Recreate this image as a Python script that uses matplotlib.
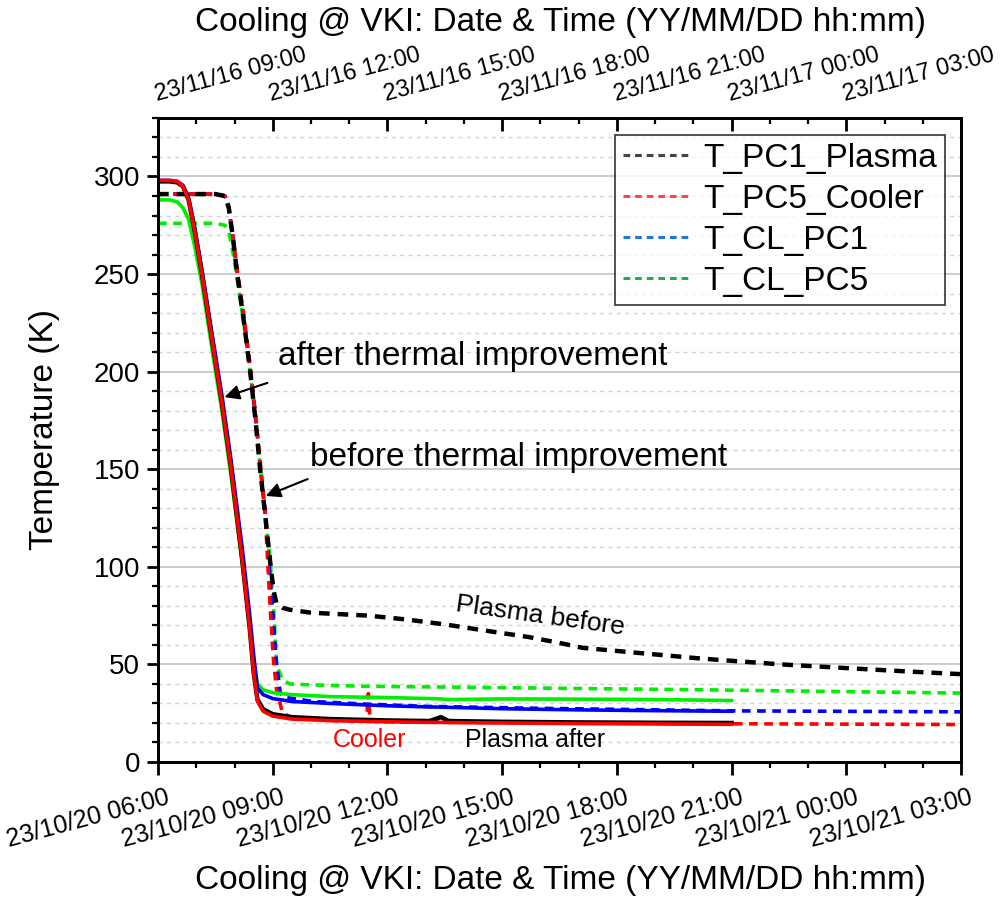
import matplotlib
matplotlib.use("Agg")
import matplotlib.pyplot as plt
from matplotlib.lines import Line2D
from matplotlib.ticker import MultipleLocator
from matplotlib.transforms import ScaledTranslation

plt.rcParams['font.family'] = ['Liberation Sans', 'DejaVu Sans']

# Tick positions (hours after the start of each run) and labels
tick_hours = [0, 3, 6, 9, 12, 15, 18, 21]
bottom_labels = ['23/10/20 06:00', '23/10/20 09:00', '23/10/20 12:00', '23/10/20 15:00',
                 '23/10/20 18:00', '23/10/20 21:00', '23/10/21 00:00', '23/10/21 03:00']
top_labels = ['23/11/16 09:00', '23/11/16 12:00', '23/11/16 15:00', '23/11/16 18:00',
              '23/11/16 21:00', '23/11/17 00:00', '23/11/17 03:00', '']

# After thermal improvement (solid lines)
t_after = [0, 0.3, 0.5, 0.65, 0.8, 0.95, 1.15, 1.4, 1.67, 1.9, 2.2, 2.4, 2.5, 2.6,
           2.75, 3.0, 3.5, 4.5, 6.0, 7.1, 7.4, 7.6, 9.0, 11.0, 13.0, 15.0]
plasma_after = [297.5, 297.5, 297, 295, 288, 273, 250, 218, 184, 152, 104, 68, 46, 32,
                27, 24.5, 23, 22, 21.3, 21, 23, 21, 20.6, 20.3, 20.1, 20]
cooler_after = [298, 298, 297.5, 295, 288, 273, 250, 218, 184, 152, 104, 68, 46, 31,
                26, 23.5, 22, 21.2, 20.6, 20.3, 20.3, 20.2, 20, 19.7, 19.5, 19.3]
cl_pc1_after = [298, 298, 297.5, 295.5, 289, 275, 252, 221, 188, 156, 110, 75, 55, 38,
                34.5, 32.5, 31, 30, 28.8, 28.2, 28.1, 28, 27.3, 26.7, 26.3, 26]
cl_pc5_after = [288, 288, 287, 284, 278, 265, 245, 213, 180, 148, 102, 70, 52, 40,
                37, 35.5, 34.5, 33.5, 33, 32.5, 32.3, 32, 32.3, 32.2, 32, 31.5]

# Before thermal improvement (dashed lines)
t_plasma_before = [0, 1.5, 1.75, 1.85, 1.95, 2.07, 2.25, 2.41, 2.55, 2.67, 2.8, 2.93, 3.02,
                   3.1, 3.25, 3.45, 4.0, 4.5, 5.5, 6.5, 7.5, 8.5, 9.7, 10.5, 11.1, 12.5,
                   14.2, 16.3, 18.1, 19.5, 21.0]
plasma_before = [291, 291, 290, 284, 270, 250, 225, 200, 175, 150, 127, 103, 88,
                 81, 79, 78, 76.5, 76, 75, 73, 70.5, 67.5, 64, 61, 58.5, 56,
                 53, 50, 48, 46.5, 45]
t_cooler_before = [0, 1.5, 1.75, 1.85, 1.95, 2.07, 2.25, 2.41, 2.55, 2.67, 2.8, 2.93, 3.02,
                   3.1, 3.25, 3.45, 4.0, 4.5, 5.45, 5.5, 5.55, 6.5, 9.0, 12.0, 15.0, 18.0, 21.0]
cooler_before = [291, 291, 290, 284, 270, 252, 228, 203, 178, 154, 128, 80, 52,
                 37, 25.5, 23, 21.8, 21.3, 20.9, 35, 20.8, 20.5, 20.2, 19.9, 19.6, 19.4, 19.2]
t_cl_pc1_before = [0, 1.5, 1.75, 1.85, 1.95, 2.07, 2.25, 2.41, 2.55, 2.67, 2.8, 2.93, 3.02,
                   3.1, 3.2, 3.37, 4.05, 5.4, 7.0, 10.0, 15.0, 21.0]
cl_pc1_before = [291, 291, 290, 284, 270, 251, 226, 201, 177, 152, 128, 95, 72,
                 50, 35, 33, 31, 29.7, 28.5, 27.5, 26.2, 25.7]
t_cl_pc5_before = [0, 1.5, 1.75, 1.85, 1.95, 2.07, 2.25, 2.41, 2.55, 2.67, 2.8, 2.93, 3.02,
                   3.1, 3.25, 3.45, 4.0, 5.4, 8.0, 14.2, 21.0]
cl_pc5_before = [276, 276, 275, 272, 262, 248, 224, 200, 176, 152, 128, 104, 80,
                 50, 42, 40, 39.5, 38.8, 38.3, 37, 35.3]

series_names = ['T_PC1_Plasma', 'T_PC5_Cooler', 'T_CL_PC1', 'T_CL_PC5']
legend_colors = ['#444444', '#ff4545', '#2277dd', '#22aa55']

fig = plt.figure(figsize=(10.04, 8.99), dpi=100)
ax = fig.add_axes([0.1574, 0.1524, 0.7998, 0.7164])

dash = (0, (2.4, 1.8))
lw_d = 2.6
lw_s = 2.6
ax.plot(t_cl_pc5_before, cl_pc5_before, color='#00ee00', ls=dash, lw=lw_d)
ax.plot(t_cl_pc1_before, cl_pc1_before, color='#0000ff', ls=dash, lw=lw_d)
ax.plot(t_cooler_before, cooler_before, color='#ff0000', ls=dash, lw=lw_d)
ax.plot(t_plasma_before, plasma_before, color='black', ls=dash, lw=lw_d + 0.6)

ax.plot(t_after, cl_pc5_after, color='#00ee00', lw=lw_s)
ax.plot(t_after, cl_pc1_after, color='#0000ff', lw=lw_s)
ax.plot(t_after, plasma_after, color='black', lw=lw_s + 0.6)
ax.plot(t_after, cooler_after, color='#ff0000', lw=lw_s)

ax.set_xlim(0, 21)
ax.set_ylim(0, 330)
ax.yaxis.set_major_locator(MultipleLocator(50))
ax.yaxis.set_minor_locator(MultipleLocator(10))
ax.xaxis.set_minor_locator(MultipleLocator(1))

ax.set_axisbelow(True)
ax.yaxis.grid(True, which='major', color='#c8c8c8', lw=1.3)
ax.yaxis.grid(True, which='minor', color='#d2d2d2', lw=1.0, ls=(0, (3, 3)))

for s in ax.spines.values():
    s.set_linewidth(2)
ax.tick_params(axis='y', which='major', direction='out', length=8, width=2, labelsize=20, pad=5)
ax.tick_params(axis='y', which='minor', direction='out', length=4, width=1.6)
ax.tick_params(axis='x', which='major', direction='out', length=9, width=2, pad=8)
ax.tick_params(axis='x', which='minor', direction='out', length=4.5, width=1.6)

ax.set_xticks(tick_hours)
ax.set_xticklabels(bottom_labels, rotation=15, ha='right', rotation_mode='anchor',
                   fontsize=18)
# nudge bottom labels a little to the right, like the original
shift = ScaledTranslation(8 / 100, 0, fig.dpi_scale_trans)
for lab in ax.get_xticklabels():
    lab.set_transform(lab.get_transform() + shift)

axt = ax.twiny()
axt.set_xlim(ax.get_xlim())
axt.xaxis.set_minor_locator(MultipleLocator(1))
axt.tick_params(axis='x', which='major', direction='in', length=9, width=2, pad=9)
axt.tick_params(axis='x', which='minor', direction='in', length=4.5, width=1.6)
axt.set_xticks(tick_hours)
axt.set_xticklabels(top_labels, rotation=15, ha='left', rotation_mode='anchor', fontsize=17)
for s in axt.spines.values():
    s.set_linewidth(2)

handles = [Line2D([], [], color=c, ls=(0, (2.2, 1.6)), lw=2.2) for c in legend_colors]
leg = ax.legend(handles, series_names, loc='upper right', bbox_to_anchor=(0.98, 0.974),
                borderaxespad=0, fontsize=24, handlelength=2.0, handletextpad=0.4,
                labelspacing=0.3, frameon=True, fancybox=False, borderpad=0.25)
leg.get_frame().set_edgecolor('black')
leg.get_frame().set_linewidth(1.2)

# annotations
ax.text(3.14, 208, 'after thermal improvement', fontsize=24, va='center', ha='left')
ax.annotate('', xy=(1.67, 186.5), xytext=(2.93, 194.7),
            arrowprops=dict(arrowstyle='-|>', color='black', lw=1.5, mutation_scale=22))
ax.text(3.98, 156, 'before thermal improvement', fontsize=24, va='center', ha='left')
ax.annotate('', xy=(2.75, 135.8), xytext=(3.98, 145.5),
            arrowprops=dict(arrowstyle='-|>', color='black', lw=1.5, mutation_scale=22))
ax.text(9.99, 74.8, 'Plasma before', fontsize=19, rotation=-8, ha='center', va='center')
ax.text(5.54, 11.3, 'Cooler', fontsize=18, color='#ff0000', ha='center', va='center')
ax.text(9.86, 11.3, 'Plasma after', fontsize=18, ha='center', va='center')

fig.text(0.558, 1 - 22 / 899, 'Cooling @ VKI: Date & Time (YY/MM/DD hh:mm)',
         fontsize=24, ha='center', va='center')
fig.text(0.558, 1 - 880 / 899, 'Cooling @ VKI: Date & Time (YY/MM/DD hh:mm)',
         fontsize=24, ha='center', va='center')
fig.text(45 / 1004, 1 - 430 / 899, 'Temperature (K)', fontsize=24, rotation=90,
         ha='center', va='center')

fig.savefig('out.png', dpi=100)
